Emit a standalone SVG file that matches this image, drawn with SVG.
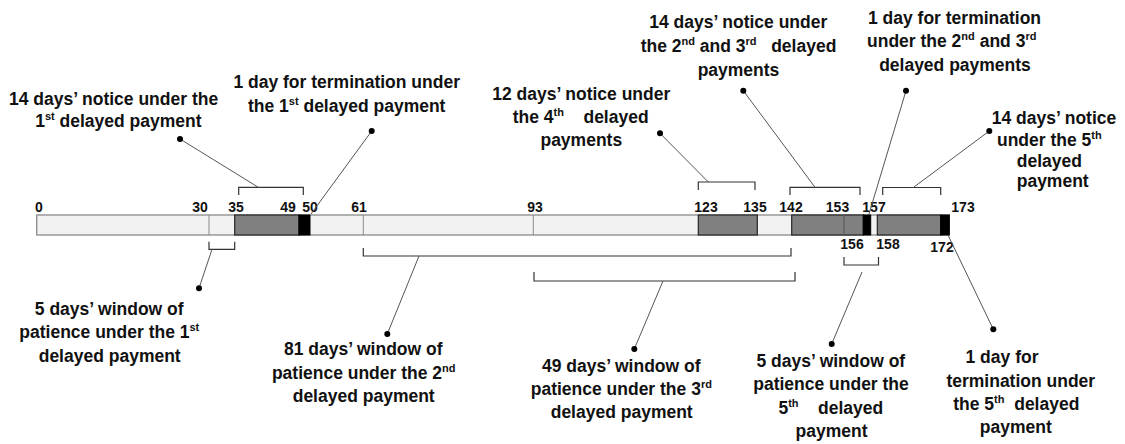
<svg xmlns="http://www.w3.org/2000/svg" width="1125" height="444" viewBox="0 0 1125 444">
<style>
.lbl{font-family:"Liberation Sans",Arial,sans-serif;font-weight:bold;font-size:17.5px;fill:#111;text-anchor:middle}
.num{font-family:"Liberation Sans",Arial,sans-serif;font-weight:bold;font-size:14px;fill:#111;text-anchor:middle}
.sup{font-size:11px}
.lt{fill:#f2f2f2;stroke:#8a8a8a;stroke-width:1.3}
.dk{fill:#808080;stroke:#262626;stroke-width:1.2}
.bk{fill:#000;stroke:#000;stroke-width:1}
.div{stroke:#8a8a8a;stroke-width:1}
.brk{fill:none;stroke:#333;stroke-width:1.2}
.ldr{stroke:#555;stroke-width:1;fill:none}
.dot{fill:#000}
</style>
<rect width="1125" height="444" fill="#fff"/>
<g id="timeline-bar">
<rect class="lt" x="36.7" y="215" width="912.6" height="20"/>
<line class="div" x1="209" y1="215" x2="209" y2="235"/>
<line class="div" x1="363.3" y1="215" x2="363.3" y2="235"/>
<line class="div" x1="533.3" y1="215" x2="533.3" y2="235"/>
<rect class="dk" x="234.7" y="215" width="64.3" height="20"/>
<rect class="bk" x="299" y="215" width="11" height="20"/>
<rect class="dk" x="698.3" y="215" width="59" height="20"/>
<rect class="dk" x="791.7" y="215" width="71.6" height="20"/>
<line x1="844" y1="215" x2="844" y2="235" stroke="#555" stroke-width="1"/>
<rect class="bk" x="863.3" y="215" width="7.4" height="20"/>
<rect class="dk" x="877.3" y="215" width="63.4" height="20"/>
<rect class="bk" x="940.7" y="215" width="8.6" height="20"/>
</g>
<g id="day-numbers">
<text class="num" x="39" y="212">0</text>
<text class="num" x="200" y="212">30</text>
<text class="num" x="236" y="212">35</text>
<text class="num" x="288" y="212">49</text>
<text class="num" x="310" y="212">50</text>
<text class="num" x="359" y="212">61</text>
<text class="num" x="535" y="212">93</text>
<text class="num" x="706" y="212">123</text>
<text class="num" x="755" y="212">135</text>
<text class="num" x="791" y="212">142</text>
<text class="num" x="837.5" y="212">153</text>
<text class="num" x="874" y="212">157</text>
<text class="num" x="963" y="212">173</text>
<text class="num" x="852" y="249">156</text>
<text class="num" x="888" y="249">158</text>
<text class="num" x="942" y="252">172</text>
</g>
<g id="connectors">
<path class="brk" d="M238.7,195 V187.3 H303.3 V195"/>
<path class="brk" d="M698.3,190 V182 H755 V190"/>
<path class="brk" d="M790,195 V187.3 H860 V195"/>
<path class="brk" d="M882.7,195 V187.5 H940.7 V195"/>
<path class="brk" d="M209,241.7 V249.3 H234.7 V241.7"/>
<path class="brk" d="M363.3,248 V256 H791 V248"/>
<path class="brk" d="M534,272 V281 H795 V272"/>
<path class="brk" d="M844,257 V265 H878.5 V257"/>
<line class="ldr" x1="180" y1="139" x2="258.3" y2="187.3"/>
<line class="ldr" x1="371.7" y1="131" x2="311" y2="214"/>
<line class="ldr" x1="660" y1="133.3" x2="708.3" y2="182"/>
<line class="ldr" x1="743.3" y1="90.7" x2="815" y2="187.3"/>
<line class="ldr" x1="906" y1="90.7" x2="869" y2="214"/>
<line class="ldr" x1="989.3" y1="131" x2="913.3" y2="187.5"/>
<line class="ldr" x1="212" y1="249.3" x2="199" y2="288.3"/>
<line class="ldr" x1="419" y1="256" x2="387.3" y2="334"/>
<line class="ldr" x1="663" y1="281" x2="634.3" y2="349"/>
<line class="ldr" x1="862" y1="272" x2="831.7" y2="344"/>
<line class="ldr" x1="948" y1="235" x2="993.3" y2="329.3"/>
<circle class="dot" cx="180" cy="139" r="3"/>
<circle class="dot" cx="371.7" cy="131" r="3"/>
<circle class="dot" cx="660" cy="133.3" r="3"/>
<circle class="dot" cx="743.3" cy="90.7" r="3"/>
<circle class="dot" cx="906" cy="90.7" r="3"/>
<circle class="dot" cx="989.3" cy="131" r="3"/>
<circle class="dot" cx="199" cy="288.3" r="3"/>
<circle class="dot" cx="387.3" cy="334" r="3"/>
<circle class="dot" cx="634.3" cy="349" r="3"/>
<circle class="dot" cx="831.7" cy="344" r="3"/>
<circle class="dot" cx="993.3" cy="329.3" r="3"/>
</g>
<g id="label-notice-1st">
<text class="lbl" x="113.6" y="105">14 days’ notice under the</text>
<text class="lbl" x="118.4" y="126.5">1<tspan class="sup" dy="-7">st</tspan><tspan dy="7"> delayed payment</tspan></text>
</g>
<g id="label-termination-1st">
<text class="lbl" x="346.7" y="88.3">1 day for termination under</text>
<text class="lbl" x="346.7" y="111.7">the 1<tspan class="sup" dy="-7">st</tspan><tspan dy="7"> delayed payment</tspan></text>
</g>
<g id="label-notice-4th">
<text class="lbl" x="581.3" y="100">12 days’ notice under</text>
<text class="lbl" x="580.7" y="123.3" xml:space="preserve">the 4<tspan class="sup" dy="-7">th</tspan><tspan dy="7">    delayed</tspan></text>
<text class="lbl" x="581.3" y="145.7">payments</text>
</g>
<g id="label-notice-2nd-3rd">
<text class="lbl" x="738.3" y="27.7">14 days’ notice under</text>
<text class="lbl" x="738.5" y="51.7" xml:space="preserve">the 2<tspan class="sup" dy="-7">nd</tspan><tspan dy="7"> and 3</tspan><tspan class="sup" dy="-7">rd</tspan><tspan dy="7">   delayed</tspan></text>
<text class="lbl" x="738.5" y="75.5">payments</text>
</g>
<g id="label-termination-2nd-3rd">
<text class="lbl" x="954.5" y="23.5">1 day for termination</text>
<text class="lbl" x="951.7" y="47">under the 2<tspan class="sup" dy="-7">nd</tspan><tspan dy="7"> and 3</tspan><tspan class="sup" dy="-7">rd</tspan></text>
<text class="lbl" x="955" y="71">delayed payments</text>
</g>
<g id="label-notice-5th">
<text class="lbl" x="1054" y="123.5">14 days’ notice</text>
<text class="lbl" x="1049.3" y="145.5">under the 5<tspan class="sup" dy="-7">th</tspan></text>
<text class="lbl" x="1049.3" y="166.5">delayed</text>
<text class="lbl" x="1052.7" y="187">payment</text>
</g>
<g id="label-window-1st">
<text class="lbl" x="109.2" y="315">5 days’ window of</text>
<text class="lbl" x="109.3" y="338.3">patience under the 1<tspan class="sup" dy="-7">st</tspan></text>
<text class="lbl" x="109.7" y="361.7">delayed payment</text>
</g>
<g id="label-window-2nd">
<text class="lbl" x="363.3" y="355">81 days’ window of</text>
<text class="lbl" x="363.7" y="378.5">patience under the 2<tspan class="sup" dy="-7">nd</tspan></text>
<text class="lbl" x="363.7" y="401.7">delayed payment</text>
</g>
<g id="label-window-3rd">
<text class="lbl" x="621.3" y="371.7">49 days’ window of</text>
<text class="lbl" x="621.3" y="395">patience under the 3<tspan class="sup" dy="-7">rd</tspan></text>
<text class="lbl" x="621.7" y="418.3">delayed payment</text>
</g>
<g id="label-window-5th">
<text class="lbl" x="830.8" y="366.7">5 days’ window of</text>
<text class="lbl" x="831" y="390">patience under the</text>
<text class="lbl" x="830.8" y="413.5" xml:space="preserve">5<tspan class="sup" dy="-7">th</tspan><tspan dy="7">    delayed</tspan></text>
<text class="lbl" x="831.5" y="436.7">payment</text>
</g>
<g id="label-termination-5th">
<text class="lbl" x="1002" y="363.3">1 day for</text>
<text class="lbl" x="1020.8" y="386.7">termination under</text>
<text class="lbl" x="1016.3" y="410" xml:space="preserve">the 5<tspan class="sup" dy="-7">th</tspan><tspan dy="7">  delayed</tspan></text>
<text class="lbl" x="1015.8" y="433.3">payment</text>
</g>
</svg>
